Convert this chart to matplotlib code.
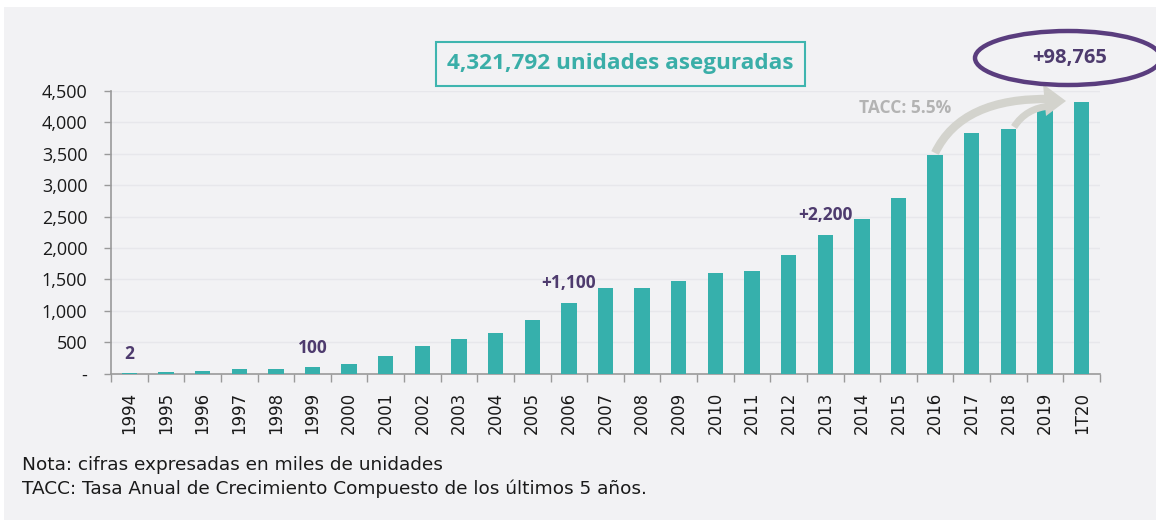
import matplotlib
matplotlib.use("Agg")
import matplotlib.pyplot as plt
from matplotlib.patches import Ellipse, Rectangle, PathPatch, Polygon
from matplotlib.path import Path
from matplotlib.transforms import Affine2D
from matplotlib.ticker import FuncFormatter, MultipleLocator, FixedLocator

categories = ["1994", "1995", "1996", "1997", "1998", "1999", "2000", "2001", "2002",
              "2003", "2004", "2005", "2006", "2007", "2008", "2009", "2010", "2011",
              "2012", "2013", "2014", "2015", "2016", "2017", "2018", "2019", "1T20"]
values = [2, 25, 45, 70, 70, 100, 155, 280, 440, 550, 650, 860, 1130, 1363, 1363, 1470,
          1602, 1629, 1895, 2209, 2454, 2796, 3487, 3834, 3892, 4223, 4322]
annotations = {"1994": "2", "1999": "100", "2006": "+1,100", "2013": "+2,200"}
title_text = "4,321,792 unidades aseguradas"
growth_text = "+98,765"
tacc_text = "TACC: 5.5%"
notes = ["Nota: cifras expresadas en miles de unidades",
         "TACC: Tasa Anual de Crecimiento Compuesto de los últimos 5 años."]

BG = "#f2f2f4"
TEAL = "#36b0ac"
PURPLE = "#5a3d7e"
PURPLE_TXT = "#4e3b6e"
GREY_ARROW = "#d3d3cd"

W, H = 1156, 520
fig = plt.figure(figsize=(W / 100, H / 100), dpi=100)
fig.patch.set_facecolor("white")
# pixel-space transform (origin top-left) for decorations
px = Affine2D().scale(1 / W, -1 / H).translate(0, 1) + fig.transFigure

# light background panel (white margin at top and left)
fig.add_artist(Rectangle((4 / W, 0), 1, 1 - 7 / H, transform=fig.transFigure,
                         facecolor=BG, edgecolor="none", zorder=0))

ax = fig.add_axes([111 / W, 1 - 373.5 / H, (1100 - 111) / W, (373.5 - 91) / H])
ax.patch.set_alpha(0)

x = list(range(len(categories)))
ax.bar(x, values, width=0.42, color=TEAL, zorder=3)

ax.set_xlim(-0.5, len(categories) - 0.5)
ax.set_ylim(0, 4500)
ax.yaxis.set_major_locator(MultipleLocator(500))
ax.yaxis.set_major_formatter(FuncFormatter(lambda v, p: "-" if v == 0 else f"{int(v):,}"))
ax.grid(axis="y", color="#e7e7eb", linewidth=1, zorder=0)

ax.set_xticks(x)
ax.set_xticklabels(categories, rotation=90, fontsize=12, fontfamily="DejaVu Sans",
                   color="#1a1a1a")
ax.tick_params(axis="x", which="major", length=0, pad=13)
ax.xaxis.set_minor_locator(FixedLocator([i - 0.5 for i in range(len(categories) + 1)]))
ax.tick_params(axis="x", which="minor", length=6, color="#9a9a9a", width=1)
ax.tick_params(axis="y", length=5, color="#9a9a9a", width=1, pad=12)
for lab in ax.get_yticklabels():
    lab.set_fontfamily("Open Sans")
    lab.set_fontsize(13)
    lab.set_color("#1a1a1a")

for s in ["top", "right"]:
    ax.spines[s].set_visible(False)
for s in ["left", "bottom"]:
    ax.spines[s].set_color("#9a9a9a")
    ax.spines[s].set_linewidth(1.2)

# value annotations
for cat, txt in annotations.items():
    i = categories.index(cat)
    ax.annotate(txt, (i, values[i]), xytext=(0, 14), textcoords="offset points",
                ha="center", va="center", fontsize=12.5, fontweight="bold",
                fontfamily="Open Sans", color=PURPLE_TXT, zorder=5)

# title box
fig.text(620 / W, 1 - 64 / H, title_text, ha="center", va="center", fontsize=16.2,
         fontweight="bold", fontfamily="Open Sans", color="#3aaea8",
         bbox=dict(boxstyle="square,pad=0.5", facecolor=BG, edgecolor="#3fb5af",
                   linewidth=1.5))

# growth swoosh arrow (decoration, drawn in pixel space)
upper = Path([(935, 153), (962, 97), (1052, 99)], [Path.MOVETO, Path.CURVE3, Path.CURVE3])
lower = Path([(1014, 127), (1026, 108), (1050, 106)], [Path.MOVETO, Path.CURVE3, Path.CURVE3])
fig.add_artist(PathPatch(upper, transform=px, facecolor="none", edgecolor=GREY_ARROW,
                         linewidth=6, capstyle="butt", zorder=4))
fig.add_artist(PathPatch(lower, transform=px, facecolor="none", edgecolor=GREY_ARROW,
                         linewidth=5, capstyle="butt", zorder=4))
fig.add_artist(Polygon([(1066, 101), (1043, 84), (1046, 116)], closed=True, transform=px,
                       facecolor=GREY_ARROW, edgecolor="none", zorder=4))

fig.text(905 / W, 1 - 108 / H, tacc_text, ha="center", va="center", fontsize=12.5,
         fontweight="bold", fontfamily="Open Sans", color="#b3b3b3")

# ellipse around growth
ell = Ellipse((1068 / W, 1 - 58 / H), 186 / W, 54 / H, transform=fig.transFigure,
              facecolor=BG, edgecolor=PURPLE, linewidth=3.2, zorder=6)
fig.add_artist(ell)
fig.text(1070 / W, 1 - 58 / H, growth_text, ha="center", va="center", fontsize=14.5,
         fontweight="bold", fontfamily="Open Sans", color=PURPLE_TXT, zorder=7)

# notes
fig.text(22 / W, 1 - 465 / H, notes[0], ha="left", va="center", fontsize=13.3,
         fontfamily="DejaVu Sans", color="#1a1a1a")
fig.text(22 / W, 1 - 489 / H, notes[1], ha="left", va="center", fontsize=13.3,
         fontfamily="DejaVu Sans", color="#1a1a1a")

fig.savefig("out.png", dpi=100, facecolor=fig.get_facecolor())
